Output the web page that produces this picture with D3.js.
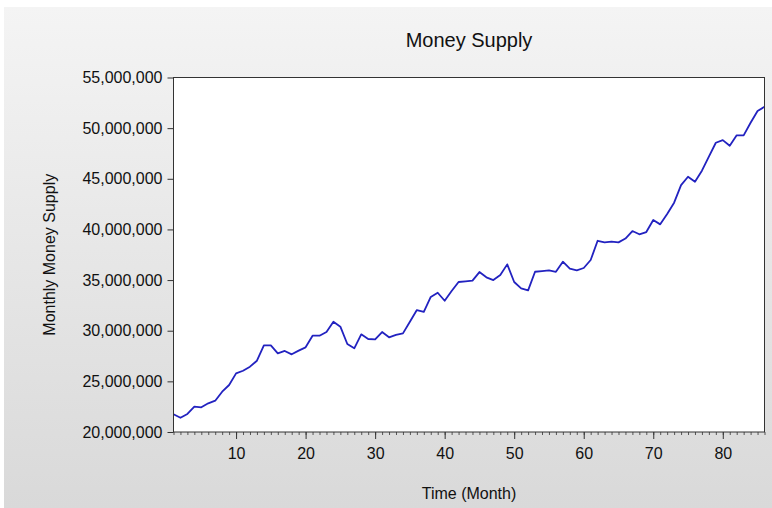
<!DOCTYPE html>
<html>
<head>
<meta charset="UTF-8">
<script src="https://d3js.org/d3.v7.min.js"></script>
<style>
  body { margin: 0; background: #fff; }
  text { font-family: "Liberation Sans", Arial, sans-serif; fill: #111; }
</style>
</head>
<body>
<svg id="chart"></svg>
<script>
var width = 772, height = 508;
var margin = {top: 77.5, right: 7.5, bottom: 76, left: 173.5};

// monthly money supply
var months = d3.range(1, 87);
var supply = [
  21750000, 21410000, 21780000, 22500000, 22440000, 22830000, 23090000, 23980000, 24640000, 25790000,
  26050000, 26450000, 27040000, 28560000, 28560000, 27770000, 28000000, 27670000, 28030000, 28360000,
  29510000, 29510000, 29870000, 30890000, 30400000, 28690000, 28260000, 29640000, 29180000, 29150000,
  29870000, 29350000, 29580000, 29740000, 30890000, 32040000, 31870000, 33330000, 33750000, 32960000,
  33920000, 34810000, 34880000, 34940000, 35790000, 35270000, 35000000, 35500000, 36550000, 34810000,
  34180000, 33980000, 35820000, 35890000, 35960000, 35820000, 36810000, 36120000, 35960000, 36190000,
  36980000, 38880000, 38720000, 38790000, 38720000, 39100000, 39840000, 39520000, 39740000, 40930000,
  40500000, 41520000, 42640000, 44380000, 45200000, 44710000, 45800000, 47180000, 48560000, 48820000,
  48260000, 49290000, 49290000, 50530000, 51690000, 52110000
];
var xTicks = [10, 20, 30, 40, 50, 60, 70, 80];
var yTicks = [20000000, 25000000, 30000000, 35000000, 40000000, 45000000, 50000000, 55000000];

var svg = d3.select("#chart").attr("width", width).attr("height", height);

var grad = svg.append("defs").append("linearGradient")
    .attr("id", "bg").attr("x1", 0).attr("y1", 0).attr("x2", 0).attr("y2", 1);
grad.append("stop").attr("offset", "0%").attr("stop-color", "#f4f4f4");
grad.append("stop").attr("offset", "100%").attr("stop-color", "#d9d9d9");

svg.append("rect").attr("x", 4).attr("y", 7)
    .attr("width", width - 4).attr("height", height - 7)
    .attr("fill", "url(#bg)");

var x = d3.scaleLinear().domain([1, 86]).range([margin.left, width - margin.right]);
var y = d3.scaleLinear().domain([20000000, 55000000]).range([height - margin.bottom, margin.top]);

svg.append("rect")
    .attr("x", x(1)).attr("y", y(55000000))
    .attr("width", x(86) - x(1)).attr("height", y(20000000) - y(55000000))
    .attr("fill", "#fff");

// minor ticks
svg.append("g")
    .attr("transform", "translate(0," + y(20000000) + ")")
    .call(d3.axisBottom(x).tickValues(months).tickSize(3).tickFormat(""))
    .call(g => g.select(".domain").remove())
    .call(g => g.selectAll("line").attr("stroke", "#555"));

// major x ticks
svg.append("g")
    .attr("transform", "translate(0," + y(20000000) + ")")
    .call(d3.axisBottom(x).tickValues(xTicks).tickSize(7).tickPadding(9))
    .call(g => g.select(".domain").remove())
    .call(g => g.selectAll("line").attr("stroke", "#333"))
    .call(g => g.selectAll("text").style("font-size", "16px").attr("fill", "#111")
        .style("font-family", "'Liberation Sans', Arial, sans-serif"));

// y axis
svg.append("g")
    .attr("transform", "translate(" + x(1) + ",0)")
    .call(d3.axisLeft(y).tickValues(yTicks).tickSize(6).tickPadding(5).tickFormat(d3.format(",")))
    .call(g => g.select(".domain").remove())
    .call(g => g.selectAll("line").attr("stroke", "#333"))
    .call(g => g.selectAll("text").style("font-size", "16px").attr("fill", "#111")
        .style("font-family", "'Liberation Sans', Arial, sans-serif"));

var line = d3.line()
    .x(function(d, i) { return x(months[i]); })
    .y(function(d) { return y(d); });

svg.append("path")
    .datum(supply)
    .attr("d", line)
    .attr("fill", "none")
    .attr("stroke", "#2222c0")
    .attr("stroke-width", 1.8)
    .attr("stroke-linejoin", "round");

// plot frame
svg.append("rect")
    .attr("x", x(1)).attr("y", y(55000000))
    .attr("width", x(86) - x(1)).attr("height", y(20000000) - y(55000000))
    .attr("fill", "none").attr("stroke", "#333").attr("stroke-width", 1);

svg.append("text")
    .attr("x", (x(1) + x(86)) / 2).attr("y", 47)
    .attr("text-anchor", "middle")
    .style("font-size", "20px")
    .text("Money Supply");

svg.append("text")
    .attr("x", (x(1) + x(86)) / 2).attr("y", 499)
    .attr("text-anchor", "middle")
    .style("font-size", "16px")
    .text("Time (Month)");

svg.append("text")
    .attr("transform", "translate(55," + (y(20000000) + y(55000000)) / 2 + ") rotate(-90)")
    .attr("text-anchor", "middle")
    .style("font-size", "16px")
    .text("Monthly Money Supply");
</script>
</body>
</html>
